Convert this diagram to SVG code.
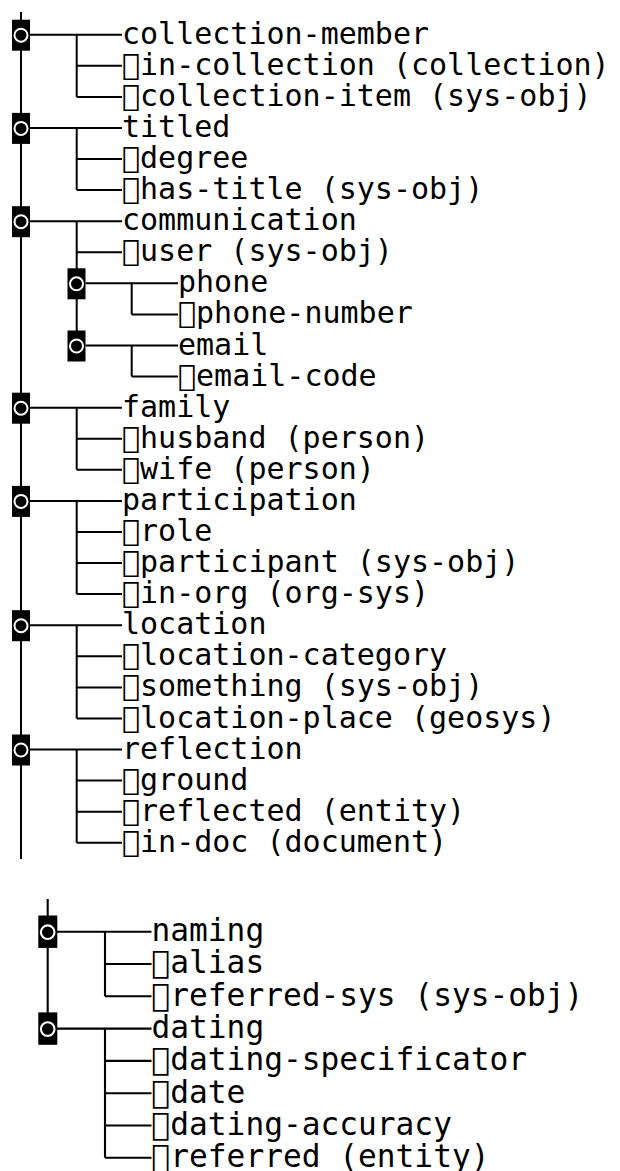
<svg xmlns="http://www.w3.org/2000/svg" width="620" height="1171" viewBox="0 0 620 1171">
<style>
.ln{stroke:#000;stroke-width:2;fill:none}
.ln2{stroke:#000;stroke-width:2.1;fill:none}
.bx{fill:#000}
.ci{fill:#000;stroke:#fff;stroke-width:2}
.ci2{fill:#000;stroke:#fff;stroke-width:2.1}
.t{font-family:"DejaVu Sans Mono",monospace;font-size:30px;fill:#000}
.t2{font-family:"DejaVu Sans Mono",monospace;font-size:31.2px;fill:#000}
</style>
<rect width="620" height="1171" fill="#fff"/>
<g id="connectors">
<path class="ln" d="M21 12V859"/>
<path class="ln" d="M30 34.7H122M76.7 34.7V96.9M76.7 65.8H122M76.7 96.9H122"/>
<path class="ln" d="M30 127.9H122M76.7 127.9V190.1M76.7 159H122M76.7 190.1H122"/>
<path class="ln" d="M30 221.2H122M76.7 221.2V345.5M76.7 252.3H122"/>
<path class="ln" d="M85.5 283.3H178M131.7 283.3V314.4M131.7 314.4H178"/>
<path class="ln" d="M85.5 345.5H178M131.7 345.5V376.6M131.7 376.6H178"/>
<path class="ln" d="M30 407.7H122M76.7 407.7V469.8M76.7 438.7H122M76.7 469.8H122"/>
<path class="ln" d="M30 500.9H122M76.7 500.9V594.1M76.7 532H122M76.7 563.1H122M76.7 594.1H122"/>
<path class="ln" d="M30 625.2H122M76.7 625.2V718.5M76.7 656.3H122M76.7 687.4H122M76.7 718.5H122"/>
<path class="ln" d="M30 749.5H122M76.7 749.5V842.8M76.7 780.6H122M76.7 811.7H122M76.7 842.8H122"/>
<path class="ln2" d="M47.7 899V1028.6"/>
<path class="ln2" d="M57 931.7H151.5M105 931.7V996.3M105 964H151.5M105 996.3H151.5"/>
<path class="ln2" d="M57 1028.6H151.5M105 1028.6V1157.8M105 1060.9H151.5M105 1093.2H151.5M105 1125.5H151.5M105 1157.8H151.5"/>
</g>
<g id="collection-member">
<rect class="bx" x="12" y="19.7" width="18" height="31"/>
<circle class="ci" cx="21" cy="35.2" r="6.5"/>
<text class="t" x="122" y="43.7">collection-member</text>
</g>
<g id="in-collection"><text class="t" x="122" y="74.8">&#xE000;in-collection (collection)</text></g>
<g id="collection-item"><text class="t" x="122" y="105.9">&#xE000;collection-item (sys-obj)</text></g>
<g id="titled">
<rect class="bx" x="12" y="112.9" width="18" height="31"/>
<circle class="ci" cx="21" cy="128.4" r="6.5"/>
<text class="t" x="122" y="136.9">titled</text>
</g>
<g id="degree"><text class="t" x="122" y="168">&#xE000;degree</text></g>
<g id="has-title"><text class="t" x="122" y="199.1">&#xE000;has-title (sys-obj)</text></g>
<g id="communication">
<rect class="bx" x="12" y="206.2" width="18" height="31"/>
<circle class="ci" cx="21" cy="221.7" r="6.5"/>
<text class="t" x="122" y="230.2">communication</text>
</g>
<g id="user"><text class="t" x="122" y="261.3">&#xE000;user (sys-obj)</text></g>
<g id="phone">
<rect class="bx" x="67.5" y="268.3" width="18" height="31"/>
<circle class="ci" cx="76.5" cy="283.8" r="6.5"/>
<text class="t" x="178" y="292.3">phone</text>
</g>
<g id="phone-number"><text class="t" x="178" y="323.4">&#xE000;phone-number</text></g>
<g id="email">
<rect class="bx" x="67.5" y="330.5" width="18" height="31"/>
<circle class="ci" cx="76.5" cy="346" r="6.5"/>
<text class="t" x="178" y="354.5">email</text>
</g>
<g id="email-code"><text class="t" x="178" y="385.6">&#xE000;email-code</text></g>
<g id="family">
<rect class="bx" x="12" y="392.7" width="18" height="31"/>
<circle class="ci" cx="21" cy="408.2" r="6.5"/>
<text class="t" x="122" y="416.7">family</text>
</g>
<g id="husband"><text class="t" x="122" y="447.7">&#xE000;husband (person)</text></g>
<g id="wife"><text class="t" x="122" y="478.8">&#xE000;wife (person)</text></g>
<g id="participation">
<rect class="bx" x="12" y="485.9" width="18" height="31"/>
<circle class="ci" cx="21" cy="501.4" r="6.5"/>
<text class="t" x="122" y="509.9">participation</text>
</g>
<g id="role"><text class="t" x="122" y="541">&#xE000;role</text></g>
<g id="participant"><text class="t" x="122" y="572.1">&#xE000;participant (sys-obj)</text></g>
<g id="in-org"><text class="t" x="122" y="603.1">&#xE000;in-org (org-sys)</text></g>
<g id="location">
<rect class="bx" x="12" y="610.2" width="18" height="31"/>
<circle class="ci" cx="21" cy="625.7" r="6.5"/>
<text class="t" x="122" y="634.2">location</text>
</g>
<g id="location-category"><text class="t" x="122" y="665.3">&#xE000;location-category</text></g>
<g id="something"><text class="t" x="122" y="696.4">&#xE000;something (sys-obj)</text></g>
<g id="location-place"><text class="t" x="122" y="727.5">&#xE000;location-place (geosys)</text></g>
<g id="reflection">
<rect class="bx" x="12" y="734.5" width="18" height="31"/>
<circle class="ci" cx="21" cy="750" r="6.5"/>
<text class="t" x="122" y="758.5">reflection</text>
</g>
<g id="ground"><text class="t" x="122" y="789.6">&#xE000;ground</text></g>
<g id="reflected"><text class="t" x="122" y="820.7">&#xE000;reflected (entity)</text></g>
<g id="in-doc"><text class="t" x="122" y="851.8">&#xE000;in-doc (document)</text></g>
<g id="naming">
<rect class="bx" x="38.3" y="915.5" width="19" height="32.4"/>
<circle class="ci2" cx="47.7" cy="932.2" r="6.8"/>
<text class="t2" x="151.5" y="941.1">naming</text>
</g>
<g id="alias"><text class="t2" x="151.5" y="973.4">&#xE000;alias</text></g>
<g id="referred-sys"><text class="t2" x="151.5" y="1005.7">&#xE000;referred-sys (sys-obj)</text></g>
<g id="dating">
<rect class="bx" x="38.3" y="1012.4" width="19" height="32.4"/>
<circle class="ci2" cx="47.7" cy="1029.1" r="6.8"/>
<text class="t2" x="151.5" y="1038">dating</text>
</g>
<g id="dating-specificator"><text class="t2" x="151.5" y="1070.3">&#xE000;dating-specificator</text></g>
<g id="date"><text class="t2" x="151.5" y="1102.6">&#xE000;date</text></g>
<g id="dating-accuracy"><text class="t2" x="151.5" y="1134.9">&#xE000;dating-accuracy</text></g>
<g id="referred"><text class="t2" x="151.5" y="1167.2">&#xE000;referred (entity)</text></g>
</svg>
